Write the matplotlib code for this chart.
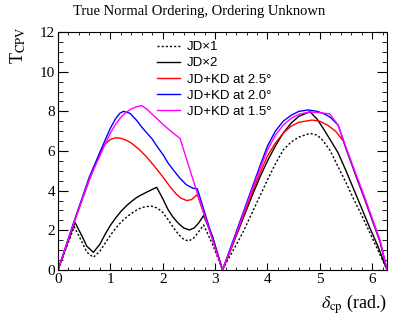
import numpy as np
import matplotlib
matplotlib.use("Agg")
import matplotlib.pyplot as plt
from matplotlib.ticker import MultipleLocator

plt.rcParams['font.family'] = ['Liberation Serif', 'DejaVu Serif']
plt.rcParams['mathtext.fontset'] = 'stix'

# ---------- data (x in rad., y = T_CPV) ----------
PI = np.pi
TWO_PI = 2 * np.pi

jd1_x = [0, 0.1, 0.2, 0.31, 0.45, 0.55, 0.675, 0.8, 0.9, 1.0, 1.1, 1.2, 1.3, 1.4, 1.5,
         1.6, 1.7, 1.79, 1.9, 2.0, 2.1, 2.2, 2.3, 2.4, 2.49, 2.58, 2.65, 2.78, 2.95, PI,
         3.25, 3.4, 3.55, 3.7, 3.85, 4.0, 4.15, 4.3, 4.45, 4.6, 4.81, 4.95, 5.05, 5.19,
         5.35, 5.5, 5.65, 5.8, 5.96, 6.1, TWO_PI]
jd1_y = [0, 0.7, 1.4, 2.18, 1.45, 0.9, 0.64, 0.95, 1.35, 1.75, 2.1, 2.4, 2.65, 2.85, 3.02,
         3.15, 3.2, 3.22, 3.12, 2.9, 2.55, 2.15, 1.8, 1.55, 1.46, 1.58, 1.8, 2.27, 1.3, 0,
         0.55, 1.25, 2.0, 2.85, 3.7, 4.55, 5.35, 6.05, 6.45, 6.7, 6.89, 6.8, 6.55, 6.05,
         5.2, 4.4, 3.55, 2.75, 1.85, 1.05, 0]

jd2_x = [0, 0.1, 0.2, 0.325, 0.45, 0.55, 0.675, 0.8, 0.9, 1.0, 1.1, 1.2, 1.3, 1.4, 1.5,
         1.6, 1.75, 1.885, 2.0, 2.1, 2.2, 2.3, 2.4, 2.51, 2.6, 2.68, 2.78, 2.95, PI,
         3.25, 3.4, 3.55, 3.7, 3.85, 4.0, 4.15, 4.3, 4.45, 4.6, 4.81, 4.95, 5.05, 5.19,
         5.35, 5.5, 5.65, 5.8, 5.95, 6.1, TWO_PI]
jd2_y = [0, 0.75, 1.5, 2.4, 1.75, 1.2, 0.89, 1.3, 1.8, 2.25, 2.62, 2.95, 3.22, 3.45, 3.65,
         3.8, 4.0, 4.17, 3.6, 3.05, 2.65, 2.35, 2.12, 2.02, 2.12, 2.35, 2.74, 1.7, 0,
         0.7, 1.7, 2.7, 3.7, 4.65, 5.5, 6.25, 6.9, 7.4, 7.75, 7.98, 7.6, 7.2, 6.6,
         5.9, 5.0, 4.05, 3.1, 2.15, 1.25, 0]

kd25_x = [0, 0.3, 0.6, 0.8, 0.9, 1.0, 1.1, 1.2, 1.3, 1.4, 1.55, 1.7, 1.85, 2.0, 2.14,
          2.25, 2.35, 2.46, 2.55, 2.66, 2.9, PI,
          3.25, 3.4, 3.55, 3.7, 3.85, 4.0, 4.15, 4.3, 4.45, 4.6, 4.85, 5.0, 5.15, 5.3,
          5.45, 5.55, 5.7, 5.85, 6.0, 6.15, TWO_PI]
kd25_y = [0, 2.35, 4.55, 5.9, 6.35, 6.58, 6.67, 6.64, 6.55, 6.4, 6.08, 5.68, 5.2, 4.7, 4.2,
          3.85, 3.62, 3.5, 3.55, 3.8, 1.95, 0,
          0.72, 1.75, 2.8, 3.85, 4.85, 5.75, 6.4, 6.9, 7.25, 7.45, 7.56, 7.5, 7.3, 7.0,
          6.5, 5.75, 4.65, 3.6, 2.5, 1.4, 0]

kd20_x = [0, 0.3, 0.6, 0.9, 1.0, 1.1, 1.18, 1.25, 1.375, 1.5, 1.6, 1.7, 1.8, 1.9, 2.01,
          2.1, 2.2, 2.33, 2.45, 2.58, 2.66, 2.9, PI,
          3.25, 3.4, 3.55, 3.7, 3.85, 4.0, 4.15, 4.3, 4.45, 4.6, 4.78, 4.95, 5.1, 5.2,
          5.35, 5.51, 5.7, 5.85, 6.0, 6.15, TWO_PI]
kd20_y = [0, 2.4, 4.7, 6.55, 7.15, 7.63, 7.9, 8.0, 7.9, 7.55, 7.2, 6.9, 6.6, 6.2, 5.8,
          5.4, 5.05, 4.62, 4.3, 4.12, 4.1, 2.05, 0,
          0.8, 1.9, 3.0, 4.1, 5.2, 6.25, 7.0, 7.5, 7.8, 8.0, 8.07, 8.0, 7.85, 7.7,
          7.3, 6.05, 4.7, 3.65, 2.55, 1.45, 0]

kd15_x = [0, 0.3, 0.6, 0.9, 1.0, 1.1, 1.2, 1.3, 1.4, 1.5, 1.6, 1.7, 1.8, 1.9, 2.0, 2.1,
          2.2, 2.33, 2.65, PI,
          3.25, 3.4, 3.55, 3.7, 3.85, 4.0, 4.15, 4.3, 4.45, 4.6, 4.81, 5.0, 5.19, 5.35,
          5.51, 5.7, 5.85, 6.0, 6.15, TWO_PI]
kd15_y = [0, 2.35, 4.6, 6.35, 6.9, 7.35, 7.7, 7.95, 8.12, 8.23, 8.29, 8.1, 7.85, 7.6, 7.35,
          7.12, 6.9, 6.64, 3.95, 0,
          0.75, 1.8, 2.9, 4.0, 5.05, 6.05, 6.8, 7.3, 7.65, 7.85, 7.97, 7.93, 7.87, 7.3,
          6.1, 4.75, 3.7, 2.6, 1.48, 0]

# ---------- figure ----------
fig = plt.figure(figsize=(4.07, 3.22), dpi=100)
ax = fig.add_axes([0.1425, 0.1615, 0.8085, 0.7391])

lw = 1.0
ax.plot(jd1_x, jd1_y, color='black', lw=lw, ls=(0, (1.5, 1.5)), label='JD\u00d71')
ax.plot(jd2_x, jd2_y, color='black', lw=lw, label='JD\u00d72')
ax.plot(kd25_x, kd25_y, color='red', lw=lw, label='JD+KD at 2.5\u00b0')
ax.plot(kd20_x, kd20_y, color='blue', lw=lw, label='JD+KD at 2.0\u00b0')
ax.plot(kd15_x, kd15_y, color='magenta', lw=lw, label='JD+KD at 1.5\u00b0')

ax.set_xlim(0, TWO_PI)
ax.set_ylim(0, 12)
ax.xaxis.set_major_locator(MultipleLocator(1))
ax.xaxis.set_minor_locator(MultipleLocator(0.2))
ax.yaxis.set_major_locator(MultipleLocator(2))
ax.yaxis.set_minor_locator(MultipleLocator(0.5))
ax.tick_params(which='both', direction='in', top=True, right=True, labelsize=11, pad=2)
ax.tick_params(axis='x', which='major', length=5)
ax.tick_params(axis='x', which='minor', length=2.5)
ax.tick_params(axis='y', which='major', length=7)
ax.tick_params(axis='y', which='minor', length=3.6)

leg = ax.legend(loc='upper left', bbox_to_anchor=(0.28, 0.99), frameon=False,
                prop={'family': 'Liberation Sans', 'size': 9.5},
                handlelength=1.8, handletextpad=0.5, labelspacing=0.3, borderpad=0)

fig.text(0.49, 0.963, 'True Normal Ordering, Ordering Unknown', ha='center', va='center',
         fontsize=10.5)
fig.text(0.045, 0.86, r'T$_{\rm CPV}$', rotation=90, ha='center', va='center', fontsize=13)
fig.text(0.951, 0.055, r'$\delta_{\rm cp}$ (rad.)', ha='right', va='center', fontsize=13)

fig.savefig('out.png', dpi=100)
